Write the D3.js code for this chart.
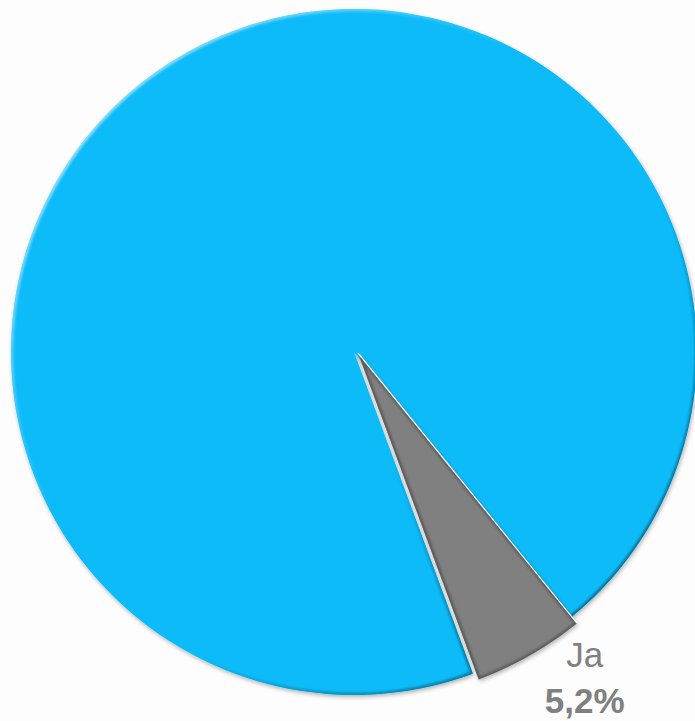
<!DOCTYPE html>
<html>
<head>
<meta charset="utf-8">
<script src="https://cdn.jsdelivr.net/npm/d3@7"></script>
<style>
  html, body { margin: 0; padding: 0; background: #fdfdfd; }
  svg { display: block; }
</style>
</head>
<body>
<div id="chart"></div>
<script>
const categories = ['Nein', 'Ja'];
const values = [94.8, 5.2];
const labels = ['', 'Ja'];
const valueLabels = ['', '5,2%'];
const colors = ['#07bbf9', '#808080'];

const width = 695, height = 721;
const cx = 354, cy = 352, radius = 343;
// the Ja slice sits a little off centre and reaches a bit further out
const shift = [[0, 0], [4, 1]];
const extra = [0, 5];

const data = categories.map((c, i) => ({ cat: c, value: values[i], i }));

const rot = 159.7 * Math.PI / 180;
const pie = d3.pie()
    .sort(null)
    .value(d => d.value)
    .startAngle(rot)
    .endAngle(rot + 2 * Math.PI);

const arc = d3.arc()
    .innerRadius(0)
    .outerRadius(d => radius + extra[d.data.i]);

const svg = d3.select('#chart')
    .append('svg')
    .attr('width', width)
    .attr('height', height);

const defs = svg.append('defs');

// soft shadow round the pie
const shadow = defs.append('filter')
    .attr('id', 'shadow')
    .attr('x', '-10%').attr('y', '-10%')
    .attr('width', '120%').attr('height', '120%');
shadow.append('feGaussianBlur').attr('in', 'SourceAlpha').attr('stdDeviation', 2);
shadow.append('feOffset').attr('dx', 1).attr('dy', 2).attr('result', 'b');
shadow.append('feComponentTransfer').append('feFuncA').attr('type', 'linear').attr('slope', 0.3);
const sm = shadow.append('feMerge');
sm.append('feMergeNode');
sm.append('feMergeNode').attr('in', 'SourceGraphic');

// bevel edge: light at top left, dark at bottom right
const edge = defs.append('linearGradient')
    .attr('id', 'edge')
    .attr('x1', '0%').attr('y1', '0%')
    .attr('x2', '100%').attr('y2', '100%');
edge.append('stop').attr('offset', '0%').attr('stop-color', '#ffffff').attr('stop-opacity', 0.8);
edge.append('stop').attr('offset', '40%').attr('stop-color', '#ffffff').attr('stop-opacity', 0);
edge.append('stop').attr('offset', '60%').attr('stop-color', '#000000').attr('stop-opacity', 0);
edge.append('stop').attr('offset', '100%').attr('stop-color', '#000000').attr('stop-opacity', 0.6);

const blur = defs.append('filter').attr('id', 'soft');
blur.append('feGaussianBlur').attr('stdDeviation', 1);

defs.selectAll('clipPath')
    .data(pie(data))
    .enter()
        .append('clipPath')
        .attr('id', d => 'clip' + d.data.i)
        .append('path')
        .attr('d', arc);

const slices = svg.selectAll('g.slice')
    .data(pie(data))
    .enter()
        .append('g')
        .attr('class', 'slice')
        .attr('transform', d => 'translate(' + (cx + shift[d.data.i][0]) + ',' + (cy + shift[d.data.i][1]) + ')');

slices.append('path')
    .attr('d', arc)
    .style('fill', d => colors[d.data.i])
    .attr('filter', 'url(#shadow)');

// inner bevel, clipped to the slice
slices.append('g')
    .attr('clip-path', d => 'url(#clip' + d.data.i + ')')
    .append('path')
    .attr('d', arc)
    .style('fill', 'none')
    .style('stroke', d => d.data.i === 0 ? 'url(#edge)' : '#444')
    .style('stroke-opacity', d => d.data.i === 0 ? 1 : 0.6)
    .style('stroke-width', 5)
    .attr('filter', 'url(#soft)');

// white line on the upper edge of the Ja slice
slices.filter(d => d.data.i === 1)
    .append('line')
    .attr('x1', 0).attr('y1', 0)
    .attr('x2', d => (radius + extra[1]) * Math.sin(d.startAngle))
    .attr('y2', d => -(radius + extra[1]) * Math.cos(d.startAngle))
    .style('stroke', '#ffffff')
    .style('stroke-width', 1.2);

// label for Ja
const ja = pie(data)[1];
const la = ja.startAngle + (ja.endAngle - ja.startAngle) * 0.25;
const lr = 409;
const lx = cx + lr * Math.sin(la);
const ly = cy - lr * Math.cos(la);

const lab = svg.append('g')
    .attr('transform', 'translate(' + lx + ',' + ly + ')')
    .style('fill', '#808080')
    .style('font-family', 'Arial, "Liberation Sans", sans-serif')
    .style('font-size', '35px')
    .attr('text-anchor', 'middle');

lab.append('text')
    .attr('y', -23)
    .text(labels[1]);

lab.append('text')
    .attr('y', 23)
    .style('font-weight', 'bold')
    .text(valueLabels[1]);
</script>
</body>
</html>
